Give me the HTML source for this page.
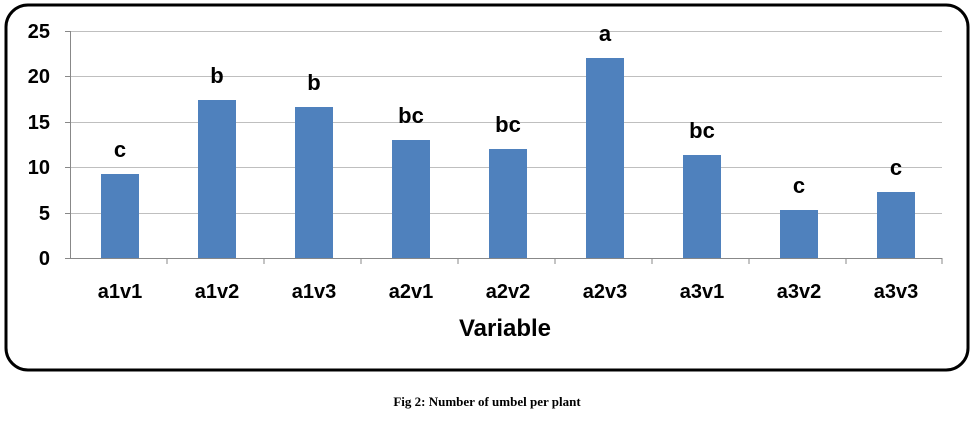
<!DOCTYPE html>
<html><head><style>
body{margin:0;background:#fff;width:978px;height:418px;overflow:hidden}
</style></head><body>
<svg width="978" height="418" xmlns="http://www.w3.org/2000/svg" font-family="Liberation Sans, sans-serif">
<rect x="6" y="5" width="962" height="365" rx="22" ry="22" fill="#fff" stroke="#000" stroke-width="3"/>
<g stroke="#bfbfbf" stroke-width="1">
<line x1="70" y1="31.5" x2="942" y2="31.5"/>
<line x1="70" y1="76.5" x2="942" y2="76.5"/>
<line x1="70" y1="122.5" x2="942" y2="122.5"/>
<line x1="70" y1="167.5" x2="942" y2="167.5"/>
<line x1="70" y1="213.5" x2="942" y2="213.5"/>
</g>
<line x1="70" y1="258.5" x2="942" y2="258.5" stroke="#888"/>
<line x1="70.5" y1="31" x2="70.5" y2="259" stroke="#888"/>
<g stroke="#888">
<line x1="65" y1="31.5" x2="70" y2="31.5"/><line x1="65" y1="76.5" x2="70" y2="76.5"/><line x1="65" y1="122.5" x2="70" y2="122.5"/><line x1="65" y1="167.5" x2="70" y2="167.5"/><line x1="65" y1="213.5" x2="70" y2="213.5"/><line x1="65" y1="258.5" x2="70" y2="258.5"/>
<line x1="167" y1="258" x2="167" y2="264"/><line x1="264" y1="258" x2="264" y2="264"/><line x1="361" y1="258" x2="361" y2="264"/><line x1="458" y1="258" x2="458" y2="264"/><line x1="555" y1="258" x2="555" y2="264"/><line x1="652" y1="258" x2="652" y2="264"/><line x1="749" y1="258" x2="749" y2="264"/><line x1="846" y1="258" x2="846" y2="264"/><line x1="942" y1="258" x2="942" y2="264"/>
</g>
<g font-size="20" font-weight="bold" text-anchor="end" fill="#000">
<text x="50" y="38">25</text><text x="50" y="83">20</text><text x="50" y="129">15</text><text x="50" y="174">10</text><text x="50" y="220">5</text><text x="50" y="265">0</text>
</g>
<g fill="#4f81bd">
<rect x="101" y="174" width="38" height="84"/>
<rect x="198" y="100" width="38" height="158"/>
<rect x="295" y="107" width="38" height="151"/>
<rect x="392" y="140" width="38" height="118"/>
<rect x="489" y="149" width="38" height="109"/>
<rect x="586" y="58" width="38" height="200"/>
<rect x="683" y="155" width="38" height="103"/>
<rect x="780" y="210" width="38" height="48"/>
<rect x="877" y="192" width="38" height="66"/>
</g>
<g font-size="22" font-weight="bold" text-anchor="middle">
<text x="120" y="157">c</text><text x="217" y="83">b</text><text x="314" y="90">b</text><text x="411" y="123">bc</text><text x="508" y="132">bc</text><text x="605" y="41">a</text><text x="702" y="138">bc</text><text x="799" y="193">c</text><text x="896" y="175">c</text>
</g>
<g font-size="20" font-weight="bold" text-anchor="middle">
<text x="120" y="298">a1v1</text><text x="217" y="298">a1v2</text><text x="314" y="298">a1v3</text><text x="411" y="298">a2v1</text><text x="508" y="298">a2v2</text><text x="605" y="298">a2v3</text><text x="702" y="298">a3v1</text><text x="799" y="298">a3v2</text><text x="896" y="298">a3v3</text>
</g>
<text x="505" y="336" font-size="24" font-weight="bold" text-anchor="middle">Variable</text>
<text x="487" y="406" font-size="13" font-weight="bold" text-anchor="middle" font-family="Liberation Serif, serif">Fig 2: Number of umbel per plant</text>
</svg>
</body></html>
